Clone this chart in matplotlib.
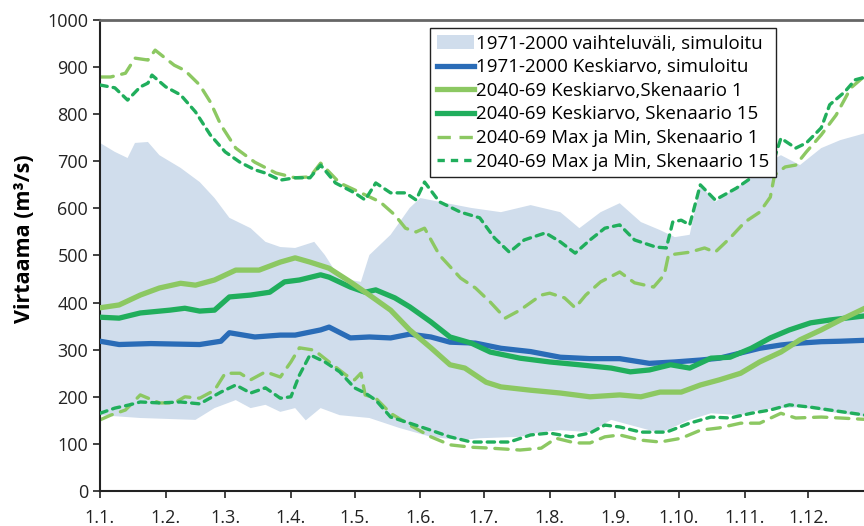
import numpy as np
import matplotlib
matplotlib.use('Agg')
import matplotlib.pyplot as plt
from matplotlib.patches import Patch
from matplotlib.lines import Line2D

plt.rcParams['font.family'] = ['Open Sans', 'DejaVu Sans']

# päivät vuoden alusta (0 = 1.1.)
month_days = [0, 31, 59, 90, 120, 151, 181, 212, 243, 273, 304, 334]
month_labels = ['1.1.', '1.2.', '1.3.', '1.4.', '1.5.', '1.6.', '1.7.', '1.8.', '1.9.', '1.10.', '1.11.', '1.12.']

# 1971-2000 vaihteluväli (yläraja / alaraja)
band_up_d = [0, 7, 13, 16.5, 22.6, 28, 38, 47, 54, 61, 71, 78, 85, 92, 101, 106, 113, 123, 127, 137, 146, 151,
             160, 175, 189, 203, 217, 226, 236, 245, 255, 264, 271, 278, 283, 290, 302, 311, 321, 330, 340, 349, 361]
band_up = [739, 720, 707, 739, 741, 713, 686, 656, 622, 580, 558, 529, 518, 516, 529, 501, 452, 444, 501, 544, 601, 622,
           614, 601, 592, 607, 592, 558, 592, 611, 571, 554, 539, 544, 650, 614, 650, 686, 713, 692, 728, 745, 760]
band_lo_d = [0, 19, 45, 54, 64, 71, 78, 85, 92, 97, 104, 113, 127, 141, 156, 170, 179, 198, 208, 217, 231, 241,
             250, 264, 278, 288, 302, 311, 321, 330, 344, 361]
band_lo = [161, 155, 151, 176, 193, 176, 183, 168, 176, 150, 176, 161, 155, 134, 115, 108, 112, 115, 125, 129, 125, 151,
           140, 123, 151, 165, 161, 172, 176, 178, 168, 157]

# 1971-2000 keskiarvo
blue_d = [0, 9, 24, 35, 47, 57, 61, 73, 85, 92, 104, 108, 118, 127, 137, 146, 156, 165, 177, 189, 203, 217, 231,
          245, 259, 271, 283, 292, 302, 311, 321, 330, 340, 349, 361]
blue = [318, 311, 313, 312, 311, 318, 336, 327, 331, 331, 342, 348, 325, 327, 325, 333, 327, 316, 314, 303, 296, 284, 281,
        281, 271, 274, 278, 282, 293, 303, 310, 314, 317, 318, 320]

# 2040-69 keskiarvo, skenaario 1
s1_d = [0, 9, 19, 28, 38, 45, 54, 64, 75, 85, 92, 99, 108, 118, 127, 137, 146, 156, 165, 172, 182, 189, 203, 217,
        231, 245, 255, 264, 274, 283, 292, 302, 311, 321, 330, 340, 349, 361]
s1 = [389, 395, 416, 431, 441, 437, 448, 469, 469, 486, 495, 486, 473, 444, 416, 384, 342, 304, 268, 261, 231, 221, 214, 208,
      200, 204, 200, 210, 210, 225, 236, 250, 274, 295, 321, 342, 363, 389]

# 2040-69 keskiarvo, skenaario 15
s15_d = [0, 9, 19, 33, 40, 47, 54, 61, 71, 80, 87, 94, 104, 108, 118, 125, 130, 139, 146, 156, 165, 175, 184, 198,
         212, 226, 241, 250, 259, 269, 278, 288, 297, 307, 316, 325, 335, 344, 361]
s15 = [369, 367, 378, 384, 388, 382, 384, 412, 416, 422, 444, 448, 459, 454, 433, 422, 427, 410, 391, 359, 327, 314, 295, 282,
       274, 268, 261, 253, 257, 268, 261, 282, 284, 303, 325, 342, 357, 363, 372]

# 2040-69 max ja min, skenaario 1
s1_max_d = [0, 5, 12, 16.5, 22.6, 26, 35, 40, 47, 52, 57, 64, 73, 83, 92, 99, 104, 113, 123, 132, 139, 144, 149,
            153, 160, 170, 177, 184, 191, 198, 208, 212, 219, 224, 229, 236, 245, 252, 261, 266, 268, 278, 285, 290,
            297, 304, 311, 316, 318, 323, 328, 333, 340, 347, 354, 361]
s1_max = [879, 879, 887, 919, 915, 936, 904, 893, 862, 826, 777, 728, 698, 675, 665, 667, 696, 654, 633, 614, 586, 558, 550,
          558, 501, 452, 431, 401, 367, 384, 416, 420, 410, 389, 416, 444, 465, 442, 433, 459, 501, 507, 516, 507,
          537, 571, 592, 624, 671, 688, 692, 720, 756, 798, 856, 883]
s1_min_d = [0, 5, 12, 19, 28, 35, 40, 47, 54, 59, 66, 71, 78, 85, 90, 94, 101, 108, 116, 120, 123, 125, 130, 137,
            146, 156, 165, 175, 184, 198, 208, 215, 224, 231, 238, 245, 255, 264, 274, 283, 292, 302, 311, 321, 328,
            340, 349, 361]
s1_min = [151, 161, 172, 204, 187, 187, 200, 197, 214, 250, 250, 236, 253, 242, 274, 304, 299, 274, 246, 236, 250, 204, 197, 165,
          140, 115, 98, 93, 91, 87, 91, 112, 102, 102, 115, 119, 108, 104, 112, 129, 134, 144, 144, 165, 155,
          157, 155, 152]

# 2040-69 max ja min, skenaario 15
s15_max_d = [0, 7, 13, 19, 22.6, 24.5, 31, 38, 45, 52, 59, 66, 73, 78, 85, 92, 99, 104, 111, 120, 125, 130, 137,
             144, 149, 153, 160, 170, 179, 186, 193, 200, 210, 217, 224, 231, 238, 245, 252, 262, 267, 270, 274, 278,
             283, 290, 300, 309, 318, 321, 328, 333, 340, 344, 351, 356, 361]
s15_max = [862, 856, 830, 858, 866, 883, 858, 841, 805, 756, 720, 698, 682, 675, 660, 665, 665, 692, 654, 633, 618, 654, 633,
           633, 618, 656, 614, 592, 580, 537, 507, 533, 548, 529, 505, 533, 558, 565, 533, 518, 516, 571, 575, 565,
           650, 618, 643, 671, 707, 749, 728, 739, 771, 820, 847, 873, 879]
s15_min_d = [0, 7, 14, 19, 28, 38, 47, 57, 64, 71, 78, 85, 90, 94, 99, 106, 113, 120, 125, 130, 137, 146, 156, 165,
             175, 184, 193, 203, 212, 222, 231, 238, 245, 255, 267, 278, 288, 297, 307, 316, 325, 335, 344, 361]
s15_min = [165, 176, 183, 189, 187, 189, 185, 210, 225, 208, 219, 197, 200, 246, 289, 274, 253, 219, 208, 193, 157, 144, 129, 115,
           104, 104, 104, 119, 123, 115, 123, 140, 136, 125, 125, 144, 157, 155, 165, 172, 183, 178, 172, 161]

c_band = '#d0ddec'
c_blue = '#2a6cb7'
c_s1 = '#8cc862'
c_s15 = '#20ae5c'

fig = plt.figure(figsize=(8.64, 5.26), dpi=100)
ax = fig.add_axes([100 / 864, 35 / 526, 770 / 864, 471 / 526])

# vaihteluväli polygonina
ax.fill(np.r_[band_up_d, band_lo_d[::-1]], np.r_[band_up, band_lo[::-1]], color=c_band, lw=0, zorder=1)

ax.plot(s1_max_d, s1_max, color=c_s1, lw=2.4, dashes=(4, 2.6), dash_capstyle='round', zorder=2)
ax.plot(s1_min_d, s1_min, color=c_s1, lw=2.4, dashes=(4, 2.6), dash_capstyle='round', zorder=2)
ax.plot(s15_max_d, s15_max, color=c_s15, lw=2.4, dashes=(2.2, 1.8), dash_capstyle='round', zorder=3)
ax.plot(s15_min_d, s15_min, color=c_s15, lw=2.4, dashes=(2.2, 1.8), dash_capstyle='round', zorder=3)
ax.plot(blue_d, blue, color=c_blue, lw=3.8, solid_capstyle='round', zorder=4)
ax.plot(s15_d, s15, color=c_s15, lw=3.8, solid_capstyle='round', zorder=5)
ax.plot(s1_d, s1, color=c_s1, lw=3.8, solid_capstyle='round', zorder=6)

ax.set_xlim(0, 363)
ax.set_ylim(0, 1000)
ax.set_yticks(range(0, 1001, 100))
ax.set_xticks(month_days)
ax.set_xticklabels(month_labels)
ax.tick_params(axis='both', labelsize=13, direction='out', length=5, width=1.2, colors='#222222')
ax.tick_params(axis='x', pad=8)
ax.set_ylabel('Virtaama (m³/s)', fontsize=15.5, fontweight='bold')
ax.yaxis.set_label_coords(-0.084, 0.535)

ax.spines['right'].set_visible(False)
ax.spines['top'].set_color('#666666')
ax.spines['top'].set_linewidth(2)
ax.spines['left'].set_linewidth(1.5)
ax.spines['bottom'].set_linewidth(1.5)
ax.spines['left'].set_color('#222222')
ax.spines['bottom'].set_color('#222222')

handles = [
    Patch(facecolor=c_band, edgecolor='none'),
    Line2D([], [], color=c_blue, lw=3.8),
    Line2D([], [], color=c_s1, lw=3.8),
    Line2D([], [], color=c_s15, lw=3.8),
    Line2D([], [], color=c_s1, lw=2.4, dashes=(4, 2.6)),
    Line2D([], [], color=c_s15, lw=2.4, dashes=(2.2, 1.8)),
]
labels = [
    '1971-2000 vaihteluväli, simuloitu',
    '1971-2000 Keskiarvo, simuloitu',
    '2040-69 Keskiarvo,Skenaario 1',
    '2040-69 Keskiarvo, Skenaario 15',
    '2040-69 Max ja Min, Skenaario 1',
    '2040-69 Max ja Min, Skenaario 15',
]
leg = ax.legend(handles, labels, loc='upper right', bbox_to_anchor=(0.878, 0.983), fontsize=13.5,
                frameon=True, fancybox=False, edgecolor='#222222', framealpha=1, borderpad=0.35,
                labelspacing=0.3, handlelength=2.0, handletextpad=0.1, borderaxespad=0)
leg.get_frame().set_linewidth(1)

fig.savefig('out.png', dpi=100)
